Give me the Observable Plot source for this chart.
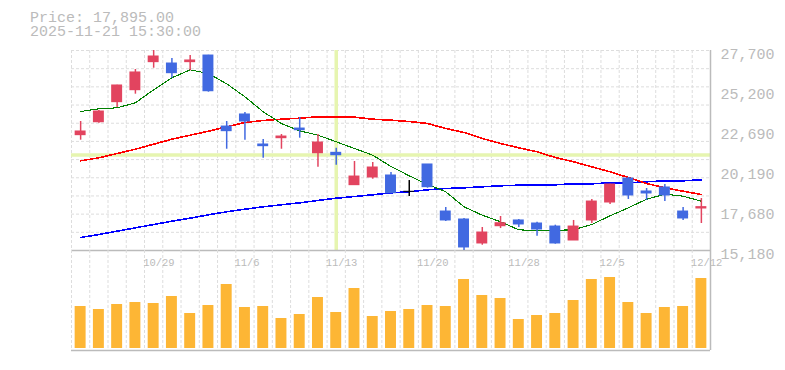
<!DOCTYPE html>
<html><head><meta charset="utf-8">
<script src="https://cdn.jsdelivr.net/npm/d3@7"></script>
<script src="https://cdn.jsdelivr.net/npm/@observablehq/plot@0.6"></script>
<style>
body{margin:0;background:#fff;}
#wrap{position:relative;width:785px;height:370px;overflow:hidden;font-family:"Liberation Mono",monospace;}
#title{position:absolute;left:30px;top:12px;font-size:15px;line-height:14px;color:#bbb;white-space:pre;}
#price,#vol{position:absolute;left:0;}
#price{top:0}
#vol{top:250px}
</style></head><body>
<div id="wrap"><div id="price"></div><div id="vol"></div><div id="title"></div></div>
<script>
const dates = ["10/23","10/24","10/27","10/28","10/29","10/30","10/31","11/4","11/5","11/6","11/7","11/10","11/11","11/12","11/13","11/14","11/17","11/18","11/19","11/20","11/21","11/25","11/26","11/27","11/28","12/1","12/2","12/3","12/4","12/5","12/8","12/9","12/10","12/11","12/12"];
const open  = [22400,23210,24465,25215,26970,26885,26970,27385,22940,23695,21815,22210,22815,21270,21295,19270,19750,19875,18855,20565,17620,17120,15620,16700,17060,16870,16680,15805,17060,18185,19685,18875,19125,17620,17810];
const close = [22630,23880,25510,26325,27325,26280,27075,25150,22650,23255,21710,22315,22710,21940,21145,19810,20375,18765,18855,19145,17060,15370,16305,16890,16810,16495,15620,16680,18245,19310,18625,18750,18625,17185,17895];
const high  = [23255,23945,25520,26510,27700,27200,27385,27400,23255,23820,22130,22440,23505,22440,21585,20750,20690,20065,19560,20565,17870,17185,16620,17310,17120,16950,16765,17060,18375,19320,19750,19060,19310,17870,18435];
const low   = [22085,23150,24130,24965,26590,25965,26430,25090,21520,22085,20960,21520,22210,20395,20520,19265,19645,18730,18560,19080,16995,15180,15510,16555,16620,16075,15575,15805,16870,18060,18375,18310,18245,17060,16870];
const volume = [1050,975,1100,1150,1125,1300,875,1075,1600,1025,1050,750,850,1275,900,1500,800,925,975,1075,1050,1725,1325,1250,725,825,875,1200,1725,1775,1150,875,1025,1050,1750];
const ma5  = [23881,24050,24113,24426,25240,25991,26492,26260,25615,24802,23863,23130,22673,22398,21985,21565,21146,20438,19856,19312,18855,17916,17390,16977,16476,16413,16445,16476,16808,17352,17853,18391,18704,18579,18266];
const ma25 = [20795,20983,21252,21521,21834,22147,22398,22648,22924,23193,23318,23399,23462,23550,23550,23525,23399,23337,23255,23130,22817,22567,22191,21878,21609,21359,21002,20733,20420,20107,19750,19374,19105,18892,18686];
const ma75 = [15994,16182,16388,16601,16808,17014,17202,17415,17603,17765,17916,18041,18166,18310,18454,18560,18667,18792,18855,18980,19061,19105,19168,19230,19268,19293,19293,19355,19355,19418,19418,19481,19543,19543,19606];
const yTicks = [15180,17680,20190,22690,25200,27700];
const xTickLabels = ["10/29","11/6","11/13","11/20","11/28","12/5","12/12"];
const titleLines = ["Price: 17,895.00","2025-11-21 15:30:00"];
const crossDate = "11/13";
const crossPrice = 21160;

const RED = "#e2445f", BLUE = "#4169e1", ORANGE = "#fdb635", CROSS = "#e6f5b0";
const GRID = "#dddddd", AXIS = "#bbbbbb", TEXT = "#bbbbbb";

const candles = dates.map((d, i) => ({i, date: d, open: open[i], close: close[i], high: high[i], low: low[i], volume: volume[i]}));
const colorOf = d => d.close > d.open ? RED : d.close < d.open ? BLUE : "#000000";
const yMin = d3.min(yTicks), yMax = d3.max(yTicks);
const xDomain = [-0.5, dates.length - 0.5];
const gridX = d3.range(dates.length + 1).map(i => i - 0.5);
const gridY = d3.range(1, 12).map(k => yMin + k * (yMax - yMin) / 11);
const crossIndex = dates.indexOf(crossDate);
const fmt = d3.format(",");

document.getElementById("title").textContent = titleLines.join("\n");

const common = {
  width: 785, marginLeft: 71, marginRight: 75,
  style: {background: "transparent", overflow: "visible", fontFamily: "'Liberation Mono', monospace"},
  x: {type: "linear", domain: xDomain, axis: null},
  color: {type: "identity"}
};

const pricePlot = Plot.plot({
  ...common,
  height: 250, marginTop: 50, marginBottom: 0,
  y: {domain: [yMin, yMax], axis: null},
  marks: [
    Plot.ruleX(gridX, {x: d => d, stroke: GRID, strokeDasharray: "3,2"}),
    Plot.ruleY(gridY, {y: d => d, stroke: GRID, strokeDasharray: "3,2"}),
    Plot.ruleX([crossIndex], {x: d => d, stroke: CROSS, strokeWidth: 3.5}),
    Plot.ruleY([crossPrice], {y: d => d, stroke: CROSS, strokeWidth: 3.5}),
    Plot.ruleY([yMin], {y: d => d, stroke: AXIS, strokeWidth: 1.5}),
    Plot.ruleX([xDomain[1]], {x: d => d, stroke: AXIS, strokeWidth: 1.5}),
    Plot.line(ma75, {x: (d, i) => i, y: d => d, stroke: "#0000ff", strokeWidth: 1.6, shapeRendering: "crispEdges"}),
    Plot.line(ma25, {x: (d, i) => i, y: d => d, stroke: "#ff0000", strokeWidth: 1.6, shapeRendering: "crispEdges"}),
    Plot.line(ma5, {x: (d, i) => i, y: d => d, stroke: "#008000", strokeWidth: 1.1, shapeRendering: "crispEdges"}),
    Plot.ruleX(candles, {x: "i", y1: "low", y2: "high", stroke: colorOf, strokeWidth: 1.5}),
    Plot.rect(candles, {x1: d => d.i - 0.3, x2: d => d.i + 0.3, y1: "open", y2: "close", fill: colorOf, insetTop: -0.5, insetBottom: -0.5}),
    Plot.text(yTicks, {y: d => d, text: d => fmt(d), frameAnchor: "right", textAnchor: "start", dx: 10, lineAnchor: "top", dy: -2, fontSize: 15, fill: TEXT})
  ]
});
document.getElementById("price").appendChild(pricePlot);

const volPlot = Plot.plot({
  ...common,
  height: 120, marginTop: 0, marginBottom: 20,
  y: {domain: [0, 2450], axis: null, insetBottom: 2},
  marks: [
    Plot.ruleX(gridX, {x: d => d, stroke: GRID, strokeDasharray: "3,2"}),
    Plot.ruleX([xDomain[1]], {x: d => d, stroke: AXIS, strokeWidth: 1.5}),
    Plot.ruleY([0], {y: d => d, dy: 2, stroke: AXIS, strokeWidth: 1.5}),
    Plot.rect(candles, {x1: d => d.i - 0.3, x2: d => d.i + 0.3, y1: 0, y2: "volume", fill: ORANGE}),
    Plot.text(xTickLabels, {x: d => dates.indexOf(d), text: d => d, frameAnchor: "top", textAnchor: "start", dx: -10.5, lineAnchor: "top", dy: 8.5, fontSize: 10.5, fill: TEXT})
  ]
});
document.getElementById("vol").appendChild(volPlot);
</script>
</body></html>
